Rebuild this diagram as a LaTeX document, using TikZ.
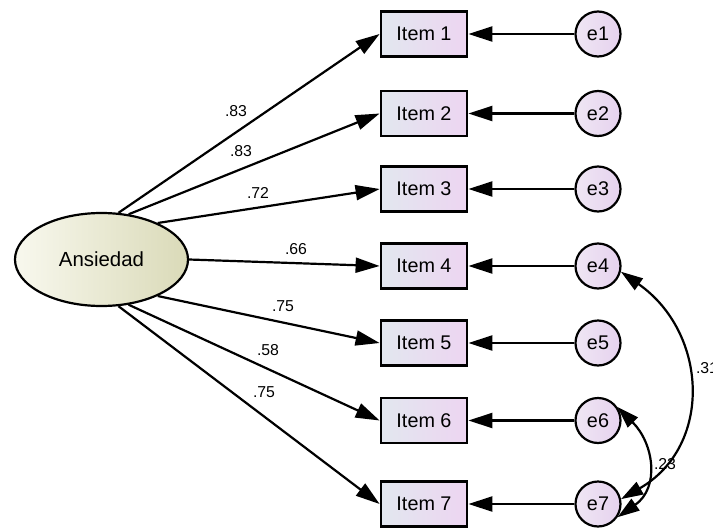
\documentclass[tikz,border=0pt]{standalone}
\usepackage{fontspec}
\setmainfont{Liberation Sans}
\usetikzlibrary{arrows.meta,shapes.geometric}
\definecolor{boxleft}{HTML}{E2E7EF}
\definecolor{boxright}{HTML}{EDD5F1}
\definecolor{latleft}{HTML}{F8F8EE}
\definecolor{latright}{HTML}{DADAB8}
\definecolor{errleft}{HTML}{EFE6F4}
\definecolor{errright}{HTML}{E6D2EE}
\tikzset{
  item/.style={draw, line width=1.4pt, left color=boxleft, right color=boxright,
    minimum width=43pt, minimum height=22.5pt, inner sep=0pt, font=\fontsize{9.9}{11}\selectfont},
  latent/.style={draw, ellipse, line width=1.1pt, left color=latleft, right color=latright,
    minimum width=86.5pt, minimum height=46.5pt, inner sep=0pt, font=\fontsize{10.2}{12}\selectfont},
  err/.style={draw, circle, line width=1.1pt, left color=errleft, right color=errright,
    minimum size=22.5pt, inner sep=0pt, font=\fontsize{9.9}{11}\selectfont},
  wt/.style={inner sep=0pt, font=\fontsize{7.9}{9}\selectfont},
  tip/.style={line width=1.1pt, -{Triangle[length=12pt,width=7.5pt]}},
  covtip/.style={line width=1.1pt, {Triangle[length=11pt,width=7pt]}-{Triangle[length=11pt,width=7pt]}}
}
\begin{document}
\begin{tikzpicture}[x=0.5pt,y=0.5pt]
      \useasboundingbox (0,0) rectangle (713,527);
      \draw
        (101.5,267.5) node[latent] (ans){Ansiedad}
        (424,493) node[item] (i1){Item 1}
        (424,413.5) node[item] (i2){Item 2}
        (424,338) node[item] (i3){Item 3}
        (424,261) node[item] (i4){Item 4}
        (424,184) node[item] (i5){Item 5}
        (424,106.5) node[item] (i6){Item 6}
        (424,23) node[item] (i7){Item 7}
        (598,493) node[err] (e1){e1}
        (598,413.5) node[err] (e2){e2}
        (598,338) node[err] (e3){e3}
        (598,261) node[err] (e4){e4}
        (598,184) node[err] (e5){e5}
        (598,106.5) node[err] (e6){e6}
        (598,23) node[err] (e7){e7};
      \draw
        (236,416) node[wt] (w1){.83}
        (241,376) node[wt] (w2){.83}
        (258,334) node[wt] (w3){.72}
        (296,278) node[wt] (w4){.66}
        (283,221) node[wt] (w5){.75}
        (268,177) node[wt] (w6){.58}
        (264,135) node[wt] (w7){.75}
        (707,159) node[wt] (c47){.31}
        (665,63) node[wt] (c67){.23};
      \begin{scope}[tip]
        \draw (ans.70.5) to (i1.west);
        \draw (ans.59) to (i2.west);
        \draw (ans.33) to (i3.west);
        \draw (ans.0) to (i4.west);
        \draw (ans.-33) to (i5.west);
        \draw (ans.-59) to (i6.west);
        \draw (ans.-70.5) to (i7.west);
        \draw (e1) to (i1);
        \draw (e2) to (i2);
        \draw (e3) to (i3);
        \draw (e4) to (i4);
        \draw (e5) to (i5);
        \draw (e6) to (i6);
        \draw (e7) to (i7);
      \end{scope}
      \begin{scope}[covtip]
        \draw (e4.-14) to[out=-35, in=30, looseness=1.2] (e7.12);
        \draw (e6.35) to[out=-45, in=35, looseness=1.2] (e7.-34);
      \end{scope}
    \end{tikzpicture}
\end{document}
